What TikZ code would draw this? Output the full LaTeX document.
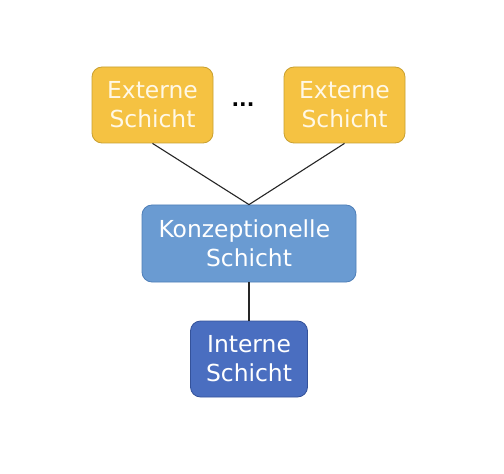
\documentclass[tikz,border=0pt]{standalone}
\usepackage{fontspec}
\setmainfont{DejaVu Sans}
\definecolor{extfill}{HTML}{F5C242}
\definecolor{extdraw}{HTML}{C9A030}
\definecolor{exttext}{HTML}{FFF8E6}
\definecolor{konfill}{HTML}{6A9BD2}
\definecolor{kondraw}{HTML}{4F7FB8}
\definecolor{intfill}{HTML}{4A6EC0}
\definecolor{intdraw}{HTML}{34529A}
\tikzset{
  layer/.style={rounded corners=10bp, line width=0.8bp, align=center,
    font=\fontsize{23.5}{29}\selectfont, inner sep=0pt},
  ext/.style={layer, fill=extfill, draw=extdraw, text=exttext,
    minimum width=121bp, minimum height=76bp},
  kon/.style={layer, fill=konfill, draw=kondraw, text=white,
    minimum width=214bp, minimum height=77bp},
  int/.style={layer, fill=intfill, draw=intdraw, text=white,
    minimum width=117bp, minimum height=76bp},
  conn/.style={line width=1.1bp, draw=black!85}
}
\begin{document}
\begin{tikzpicture}[x=1bp,y=-1bp]
\useasboundingbox[fill=white] (0,0) rectangle (504,474);
\node[ext] (e1) at (152.5,105) {Externe\\Schicht};
\node[ext] (e2) at (344.5,105) {Externe\\Schicht};
\node[font=\bfseries\fontsize{20}{24}\selectfont] (dots) at (243,105) {...};
\node[kon] (k) at (249,243.5) {Konzeptionelle\hspace*{0.4em}\\Schicht};
\node[int] (i) at (249,359) {Interne\\Schicht};
\draw[conn] (e1.south) -- (k.north);
\draw[conn] (e2.south) -- (k.north);
\draw[conn] (k.south) -- (i.north);
\end{tikzpicture}
\end{document}
